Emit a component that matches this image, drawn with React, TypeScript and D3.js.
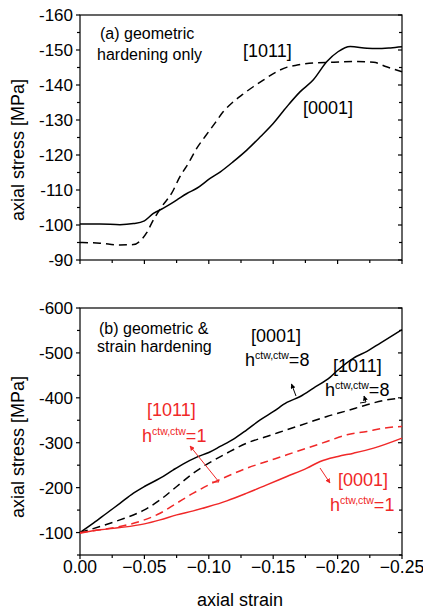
import React from "react";
import * as d3 from "d3";

// ---------- data ----------
const strainA0001 = [0, -0.0155, -0.031, -0.0415, -0.05, -0.057, -0.0648, -0.075, -0.083, -0.0907, -0.101, -0.109, -0.119, -0.1295, -0.14, -0.15, -0.1606, -0.171, -0.181, -0.1917, -0.2003, -0.2098, -0.2228, -0.2306, -0.241, -0.25];
const stressA0001 = [-100.3, -100.3, -100.1, -100.4, -101.2, -103.3, -104.8, -107.1, -109.0, -110.5, -113.3, -115.2, -118.1, -121.4, -125.2, -129.0, -133.8, -138.1, -141.4, -146.7, -149.5, -151.0, -150.5, -150.4, -150.6, -150.9];

const strainA1011 = [0, -0.0155, -0.031, -0.0415, -0.0466, -0.0518, -0.0569, -0.0634, -0.0712, -0.0776, -0.0841, -0.0906, -0.097, -0.1048, -0.1113, -0.1178, -0.1255, -0.1345, -0.1423, -0.1527, -0.1609, -0.1686, -0.181, -0.197, -0.2124, -0.228, -0.238, -0.25];
const stressA1011 = [-95.0, -94.8, -94.3, -94.4, -95.4, -97.8, -101.4, -105.2, -109.1, -113.8, -117.6, -121.9, -125.2, -129.1, -132.4, -134.8, -137.1, -139.5, -141.4, -143.8, -145.1, -145.7, -146.3, -146.5, -146.7, -146.5, -145.2, -143.8];

const strainB = [0, -0.0104, -0.0207, -0.031, -0.0415, -0.05, -0.0622, -0.0725, -0.0803, -0.0907, -0.1, -0.1088, -0.1192, -0.1295, -0.1399, -0.1503, -0.1606, -0.171, -0.1813, -0.1943, -0.2003, -0.2124, -0.2228, -0.2332, -0.25];
const stressB0001h8 = [-100, -120.8, -143, -165, -187.7, -202.5, -221, -239.7, -253, -268, -278.3, -291.7, -308, -328.8, -351, -369.7, -389.7, -403, -421.7, -446.2, -462, -488.6, -503.4, -522, -551.7];

const strainB2 = [0, -0.0155, -0.031, -0.05, -0.0622, -0.0751, -0.088, -0.1, -0.114, -0.1295, -0.145, -0.1606, -0.1762, -0.1917, -0.2073, -0.2228, -0.2358, -0.25];
const stressB1011h8 = [-100, -113.4, -128.2, -150.5, -172.8, -202.5, -232.2, -254.5, -276.8, -299.1, -314, -328.8, -343.7, -358.5, -371.2, -384.5, -394.2, -399.4];
const stressB1011h1 = [-100, -106, -113.4, -128.2, -143, -165.4, -187.7, -206.2, -224.8, -243.4, -258.2, -273.1, -288, -302.8, -317.7, -325.1, -332.5, -336.3];

const strainB3 = [0, -0.0155, -0.031, -0.05, -0.0622, -0.0751, -0.088, -0.1, -0.114, -0.1295, -0.145, -0.1606, -0.1762, -0.1865, -0.2003, -0.2124, -0.228, -0.25];
const stressB0001h1 = [-98.5, -106, -111, -119.3, -128.2, -139.4, -148.3, -157.9, -170.6, -187.7, -206.2, -224.8, -243.4, -258.2, -269.4, -276.8, -288, -310.3];

const xTicks = [0, -0.05, -0.1, -0.15, -0.2, -0.25];
const xMinor = [-0.025, -0.075, -0.125, -0.175, -0.225];
const yTicksA = [-160, -150, -140, -130, -120, -110, -100, -90];
const yMinorA = [-155, -145, -135, -125, -115, -105, -95];
const yTicksB = [-600, -500, -400, -300, -200, -100];
const yMinorB = [-550, -450, -350, -250, -150, -50];

const RED = "#f02828";
const FONT = "'Liberation Sans', Arial, Helvetica, sans-serif";

const L = 80, R = 402;
const x = d3.scaleLinear().domain([0, -0.25]).range([L, R]);
const yA = d3.scaleLinear().domain([-90, -160]).range([260, 15]);
const yB = d3.scaleLinear().domain([-50, -600]).range([555, 308]);

function path(xs: number[], ys: number[], ys2: d3.ScaleLinear<number, number>) {
  const pts = xs.map((v, i) => [x(v), ys2(ys[i])] as [number, number]);
  return d3.line().curve(d3.curveMonotoneX)(pts) || "";
}

function Frame({ y, ticks, minor, fmt, showX }: any) {
  const [y0, y1] = y.range();
  return (
    <g stroke="#000" strokeWidth={1.2} fill="none">
      <rect x={L} y={y1} width={R - L} height={y0 - y1} />
      {ticks.map((t: number) => (
        <g key={"t" + t}>
          <line x1={L - 4} x2={L} y1={y(t)} y2={y(t)} />
          <line x1={R - 4} x2={R} y1={y(t)} y2={y(t)} />
        </g>
      ))}
      {minor.map((t: number) => (
        <g key={"m" + t}>
          <line x1={L - 3} x2={L} y1={y(t)} y2={y(t)} />
          <line x1={R - 3} x2={R} y1={y(t)} y2={y(t)} />
        </g>
      ))}
      {xTicks.map((t) => (
        <line key={"x" + t} x1={x(t)} x2={x(t)} y1={y0} y2={y0 + 4} />
      ))}
      {xMinor.map((t) => (
        <line key={"xm" + t} x1={x(t)} x2={x(t)} y1={y0} y2={y0 + 3} />
      ))}
      <g stroke="none" fill="#000" fontFamily={FONT} fontSize={17}>
        {ticks.map((t: number) => (
          <text key={"l" + t} x={L - 7} y={y(t)} dy="0.36em" textAnchor="end">{fmt(t)}</text>
        ))}
        {showX && xTicks.map((t) => (
          <text key={"xl" + t} x={x(t)} y={573} textAnchor="middle" fontSize={17.5}>{t === 0 ? "0.00" : d3.format(".2f")(t)}</text>
        ))}
      </g>
    </g>
  );
}

function HLabel({ x0, y0, val, color }: any) {
  return (
    <text x={x0} y={y0} fill={color} fontFamily={FONT} fontSize={18}>
      h<tspan fontSize={10.5} dy={-7}>ctw,ctw</tspan><tspan dy={7}>={val}</tspan>
    </text>
  );
}

function Arrow({ pts, color, id }: any) {
  return (
    <path d={d3.line()(pts) || ""} stroke={color} strokeWidth={1} fill="none" markerEnd={`url(#${id})`} />
  );
}

export default function App() {
  const fmt = (t: number) => String(t);
  return (
    <svg width={423} height={615} style={{ display: "block", position: "absolute", left: 0, top: 0 }}>
      <defs>
        <marker id="ak" viewBox="0 0 10 10" refX={9} refY={5} markerWidth={5} markerHeight={5} orient="auto">
          <path d="M0,0 L10,5 L0,10 z" fill="#000" />
        </marker>
        <marker id="ar" viewBox="0 0 10 10" refX={9} refY={5} markerWidth={5} markerHeight={5} orient="auto">
          <path d="M0,0 L10,5 L0,10 z" fill={RED} />
        </marker>
      </defs>
      <rect width={423} height={615} fill="#fff" />

      {/* panel a */}
      <Frame y={yA} ticks={yTicksA} minor={yMinorA} fmt={fmt} showX={false} />
      <path d={path(strainA0001, stressA0001, yA)} stroke="#000" strokeWidth={1.5} fill="none" />
      <path d={path(strainA1011, stressA1011, yA)} stroke="#000" strokeWidth={1.5} fill="none" strokeDasharray="8,5" />
      <g fontFamily={FONT} fill="#000">
        <text x={100} y={39} fontSize={16}>(a) geometric</text>
        <text x={97} y={60} fontSize={16}>hardening only</text>
        <text x={243} y={57} fontSize={18}>[1011]</text>
        <text x={303} y={114} fontSize={18}>[0001]</text>
      </g>
      <text transform="translate(24,150) rotate(-90)" textAnchor="middle" fontFamily={FONT} fontSize={18}>axial stress [MPa]</text>

      {/* panel b */}
      <Frame y={yB} ticks={yTicksB} minor={yMinorB} fmt={fmt} showX={true} />
      <path d={path(strainB, stressB0001h8, yB)} stroke="#000" strokeWidth={1.5} fill="none" />
      <path d={path(strainB2, stressB1011h8, yB)} stroke="#000" strokeWidth={1.5} fill="none" strokeDasharray="8,5" />
      <path d={path(strainB2, stressB1011h1, yB)} stroke={RED} strokeWidth={1.5} fill="none" strokeDasharray="8,5" />
      <path d={path(strainB3, stressB0001h1, yB)} stroke={RED} strokeWidth={1.5} fill="none" />
      <g fontFamily={FONT} fill="#000">
        <text x={99} y={334} fontSize={16}>(b) geometric &amp;</text>
        <text x={97} y={352} fontSize={16}>strain hardening</text>
        <text x={251} y={342} fontSize={18}>[0001]</text>
        <text x={333} y={372} fontSize={18}>[1011]</text>
      </g>
      <HLabel x0={245} y0={366} val="8" color="#000" />
      <HLabel x0={325} y0={396} val="8" color="#000" />
      <text x={147} y={416} fontFamily={FONT} fontSize={18} fill={RED}>[1011]</text>
      <HLabel x0={142} y0={442} val="1" color={RED} />
      <text x={338} y={486} fontFamily={FONT} fontSize={18} fill={RED}>[0001]</text>
      <HLabel x0={330} y0={511} val="1" color={RED} />

      <Arrow pts={[[296, 396], [291.5, 384]]} color="#000" id="ak" />
      <Arrow pts={[[360, 403], [366, 402], [364, 396]]} color="#000" id="ak" />
      <Arrow pts={[[212, 482], [219, 482], [190, 446]]} color={RED} id="ar" />
      <Arrow pts={[[320, 468], [330, 483]]} color={RED} id="ar" />

      <text transform="translate(24,447) rotate(-90)" textAnchor="middle" fontFamily={FONT} fontSize={18}>axial stress [MPa]</text>
      <text x={240} y={606} textAnchor="middle" fontFamily={FONT} fontSize={18}>axial strain</text>
    </svg>
  );
}
